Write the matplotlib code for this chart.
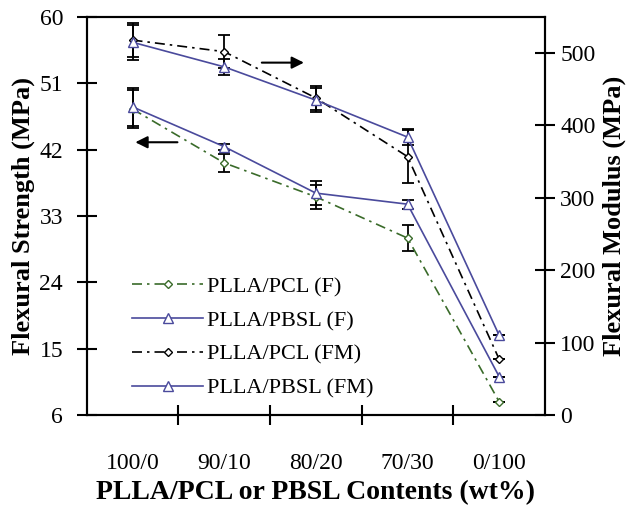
import numpy as np
import matplotlib
matplotlib.use('Agg')
import matplotlib.pyplot as plt
from matplotlib.lines import Line2D

plt.rcParams['font.family'] = ['Liberation Serif', 'DejaVu Serif']

contents = ['100/0', '90/10', '80/20', '70/30', '0/100']

# flexural strength (MPa), left axis
pcl_f = [47.5, 40.2, 35.6, 30.0, 7.8]
pcl_f_err = [2.6, 1.2, 1.6, 1.8, 0.0]
pbsl_f = [47.8, 42.4, 36.1, 34.6, 11.2]
pbsl_f_err = [2.6, 0.4, 1.6, 0.6, 0.0]

# flexural modulus (MPa), right axis
pcl_fm = [518, 502, 438, 357, 77]
pcl_fm_err = [24, 23, 17, 37, 0]
pbsl_fm = [515, 481, 435, 384, 110]
pbsl_fm_err = [24, 11, 17, 11, 0]

green = '#3a6b2a'
blue = '#4a4a9c'
dashdot = (0, (6, 3, 1.5, 3))

fig = plt.figure(figsize=(6.33, 5.13), dpi=100)
ax = fig.add_axes([0.137, 0.191, 0.724, 0.776])
ax2 = ax.twinx()

x = np.arange(len(contents))

styles = [
    (ax, pcl_f, pcl_f_err, green, dashdot, 'D', 4.5, 'PLLA/PCL (F)'),
    (ax, pbsl_f, pbsl_f_err, blue, '-', '^', 7, 'PLLA/PBSL (F)'),
    (ax2, pcl_fm, pcl_fm_err, 'black', dashdot, 'D', 4.5, 'PLLA/PCL (FM)'),
    (ax2, pbsl_fm, pbsl_fm_err, blue, '-', '^', 7, 'PLLA/PBSL (FM)'),
]

handles = []
for a, vals, err, col, ls, mk, ms, lab in styles:
    a.errorbar(x, vals, yerr=err, color=col, ls=ls, lw=1.2, marker=mk, ms=ms,
               mfc='white', mec=col, ecolor='black', elinewidth=1.3,
               capsize=4.5, capthick=1.3)
    handles.append(Line2D([], [], color=col, ls=ls, lw=1.2, marker=mk, ms=ms,
                          mfc='white', mec=col, label=lab))

ax.set_xlim(-0.5, 4.5)
ax.set_ylim(6, 60)
ax.set_yticks([6, 15, 24, 33, 42, 51, 60])
ax2.set_ylim(0, 550)
ax2.set_yticks([0, 100, 200, 300, 400, 500])

ax.set_xticks(x)
ax.set_xticklabels(contents)
ax.set_xticks([0.5, 1.5, 2.5, 3.5], minor=True)
ax.tick_params(axis='x', which='major', length=0, pad=27, labelsize=17)
ax.tick_params(axis='x', which='minor', direction='inout', length=14, width=1.5)
ax.tick_params(axis='y', direction='inout', length=14, width=1.5, pad=10, labelsize=17)
ax2.tick_params(axis='y', direction='inout', length=14, width=1.5, pad=4, labelsize=17)

for a in (ax, ax2):
    for s in a.spines.values():
        s.set_linewidth(1.5)

ax.set_xlabel('PLLA/PCL or PBSL Contents (wt%)', fontsize=20, fontweight='bold', labelpad=5)
ax.set_ylabel('Flexural Strength (MPa)', fontsize=19, fontweight='bold', labelpad=3)
ax2.set_ylabel('Flexural Modulus (MPa)', fontsize=19, fontweight='bold', labelpad=5)

# arrows pointing to the matching axis
ax.annotate('', xy=(0.0, 43.0), xytext=(0.52, 43.0),
            arrowprops=dict(arrowstyle='-|>', color='black', lw=1.5, mutation_scale=18))
ax.annotate('', xy=(1.9, 53.8), xytext=(1.38, 53.8),
            arrowprops=dict(arrowstyle='-|>', color='black', lw=1.5, mutation_scale=18))

ax.legend(handles=handles, loc='upper left', bbox_to_anchor=(0.08, 0.37),
          frameon=False, fontsize=16, numpoints=1, handlelength=3.2,
          handletextpad=0.15, labelspacing=0.6, borderaxespad=0)

fig.savefig('out.png', dpi=100)
